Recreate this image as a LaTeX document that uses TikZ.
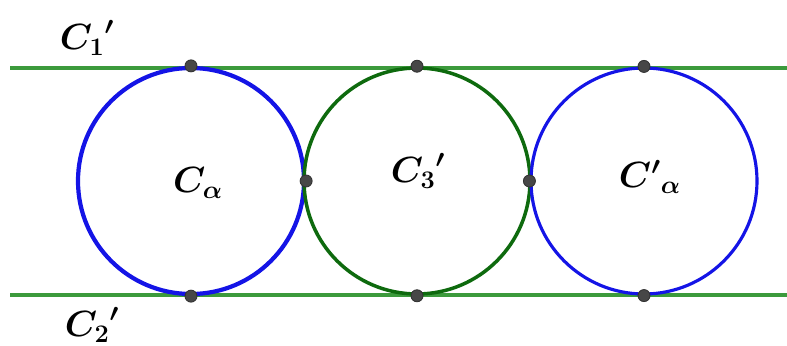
\documentclass[tikz,border=0pt]{standalone}
\usepackage{amsmath,bm}
\usepackage{tikz}
\definecolor{lineg}{HTML}{3C9A3C}
\definecolor{circg}{HTML}{0E6A0E}
\definecolor{circb}{HTML}{1414E6}
\definecolor{dotc}{HTML}{474747}

\begin{document}
\begin{tikzpicture}[x=0.02cm,y=-0.02cm,
 tline/.style={draw=lineg,line width=2.2pt},
 circ/.style={circle,minimum size=226*0.02cm,inner sep=0pt,line width=2pt},
 pt/.style={circle,fill=dotc,draw=black!80,line width=0.5pt,inner sep=0pt,minimum size=0.24cm},
 lbl/.style={font=\fontsize{20}{24}\selectfont,inner sep=0pt}]
\useasboundingbox (0,0) rectangle (787,345);
\coordinate (l1a) at (10,68);
\coordinate (l1b) at (787,68);
\coordinate (l2a) at (10,295);
\coordinate (l2b) at (787,295);
\draw[tline] (l1a)--(l1b);
\draw[tline] (l2a)--(l2b);
\node[circ,draw=circb,line width=2.4pt] (ca) at (191,181) {};
\node[circ,draw=circg] (c3) at (417,181) {};
\node[circ,draw=circb,line width=1.8pt] (cb) at (644,181) {};
% tangency points
\node[pt] (t1) at (ca.north) {};
\node[pt] (t2) at (c3.north) {};
\node[pt] (t3) at (cb.north) {};
\node[pt] (b1) at (ca.south) {};
\node[pt] (b2) at (c3.south) {};
\node[pt] (b3) at (cb.south) {};
\node[pt] (m1) at (ca.east) {};
\node[pt] (m2) at (cb.west) {};
% labels
\node[lbl] (n1) at (87,38) {$\bm{{C_1}'}$};
\node[lbl] (n2) at (92,325) {$\bm{{C_2}'}$};
\node[lbl] (na) at (198,183) {$\bm{C_{\alpha}}$};
\node[lbl] (n3) at (418,171) {$\bm{{C_3}'}$};
\node[lbl] (nb) at (650,177) {$\bm{{C'}_{\alpha}}$};
\end{tikzpicture}
\end{document}
